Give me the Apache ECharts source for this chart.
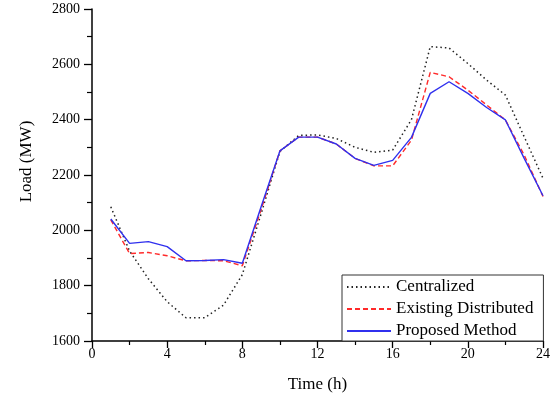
<!DOCTYPE html>
<html>
<head>
<meta charset="utf-8">
<script src="https://cdn.jsdelivr.net/npm/echarts@6/dist/echarts.min.js"></script>
<style>html,body{margin:0;padding:0;background:#fff;}#c{width:556px;height:401px;}</style>
</head>
<body>
<div id="c"></div>
<script>
var hours = [1,2,3,4,5,6,7,8,9,10,11,12,13,14,15,16,17,18,19,20,21,22,23,24];
var centralized = [2085,1925,1825,1742,1684,1684,1730,1840,2060,2285,2343,2345,2332,2300,2282,2290,2400,2664,2659,2603,2543,2489,2338,2188];
var existingDistributed = [2038,1916,1920,1908,1890,1891,1890,1872,2075,2287,2337,2337,2312,2260,2233,2233,2326,2571,2555,2507,2453,2399,2272,2122];
var proposedMethod = [2041,1953,1959,1941,1890,1891,1894,1881,2085,2287,2337,2337,2312,2260,2235,2253,2336,2495,2537,2495,2444,2399,2260,2125];
var seriesNames = ['Centralized','Existing Distributed','Proposed Method'];
var xTicks = {min:0, max:24, interval:4};
var yTicks = {min:1600, max:2800, interval:200};

function pairs(v){ return hours.map(function(h,i){ return [h, v[i]]; }); }
var font = 'Liberation Serif';
var chart = echarts.init(document.getElementById('c'), null, {renderer:'canvas'});
chart.setOption({
  animation:false,
  backgroundColor:'#fff',
  textStyle:{fontFamily:font},
  grid:{left:92, right:13, top:9, bottom:60, containLabel:false},
  legend:{
    left:342, top:275, orient:'vertical',
    data:seriesNames,
    itemWidth:44, itemHeight:12, itemGap:2,
    padding:[2,10,0,4],
    borderColor:'#333', borderWidth:1, backgroundColor:'#fff',
    itemStyle:{opacity:0},
    textStyle:{fontFamily:font, fontSize:17, lineHeight:20, color:'#000'}
  },
  xAxis:{
    type:'value', min:xTicks.min, max:xTicks.max, interval:xTicks.interval,
    name:'Time (h)', nameLocation:'middle', nameGap:35,
    nameTextStyle:{fontFamily:font, fontSize:17, color:'#000'},
    axisLine:{show:true, onZero:false, lineStyle:{color:'#000', width:1.5}},
    axisTick:{show:true, inside:false, length:7, lineStyle:{color:'#000', width:1.3}},
    minorTick:{show:true, splitNumber:2, length:4, lineStyle:{color:'#000', width:1.2}},
    axisLabel:{fontFamily:font, fontSize:14, color:'#000', margin:6, formatter:function(v){return String(v);}},
    splitLine:{show:false}
  },
  yAxis:{
    type:'value', min:yTicks.min, max:yTicks.max, interval:yTicks.interval,
    name:'Load (MW)', nameLocation:'middle', nameGap:57,
    nameTextStyle:{fontFamily:font, fontSize:17, color:'#000', padding:[0,0,0,27]},
    axisLine:{show:true, onZero:false, lineStyle:{color:'#000', width:1.5}},
    axisTick:{show:true, inside:false, length:8, lineStyle:{color:'#000', width:1.3}},
    minorTick:{show:true, splitNumber:2, length:5, lineStyle:{color:'#000', width:1.2}},
    axisLabel:{fontFamily:font, fontSize:14, color:'#000', margin:12, formatter:function(v){return String(v);}},
    splitLine:{show:false}
  },
  series:[
    {name:seriesNames[0], type:'line', symbol:'none', data:pairs(centralized),
     color:'#222', lineStyle:{color:'#222', width:1.5, type:[1.5,3]}},
    {name:seriesNames[1], type:'line', symbol:'none', data:pairs(existingDistributed),
     color:'#ff2a2a', lineStyle:{color:'#ff2a2a', width:1.4, type:[5,3]}},
    {name:seriesNames[2], type:'line', symbol:'none', data:pairs(proposedMethod),
     color:'#3030ee', lineStyle:{color:'#3030ee', width:1.4, type:'solid'}}
  ]
});
</script>
</body>
</html>
